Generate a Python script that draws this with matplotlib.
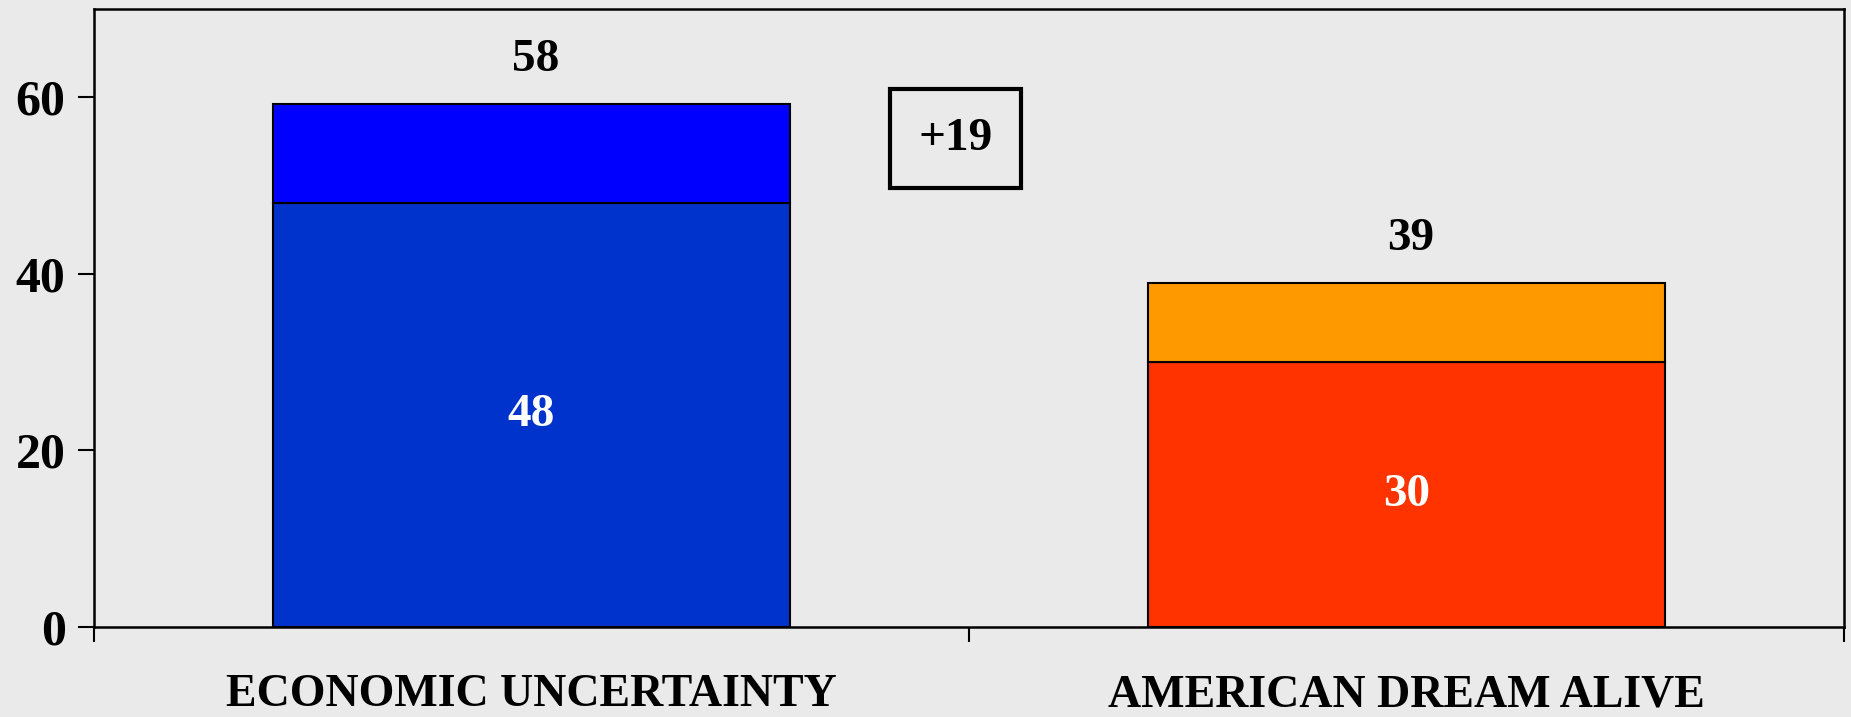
import matplotlib.pyplot as plt
import numpy as np

# data
categories = ['ECONOMIC UNCERTAINTY', 'AMERICAN DREAM ALIVE']
base = [48, 30]          # lower segment
extra = [11.2, 9]        # upper segment
total_labels = ['58', '39']
base_colors = ['#0033CC', '#FF3300']
extra_colors = ['#0000FF', '#FF9900']
diff_label = '+19'

plt.rcParams['font.family'] = ['Liberation Serif', 'DejaVu Serif']
plt.rcParams['font.weight'] = 'bold'

bg = '#EAEAEA'
fig = plt.figure(figsize=(18.51, 7.17), dpi=100, facecolor=bg)
ax = fig.add_axes([0.0508, 0.1255, 0.9454, 0.862])
ax.set_facecolor(bg)

x = np.arange(len(categories)) + 0.5
ax.bar(x, base, width=0.59, color=base_colors, edgecolor='black', linewidth=1.5, zorder=2)
ax.bar(x, extra, width=0.59, bottom=base, color=extra_colors, edgecolor='black', linewidth=1.5, zorder=2)

tops = np.array(base) + np.array(extra)
for xi, b, t, lab in zip(x, base, tops, total_labels):
    ax.text(xi, b / 2, str(b), ha='center', va='center', color='white',
            fontsize=34, fontweight='bold')
    ax.text(xi + 0.005, t + 5, lab, ha='center', va='center', color='black',
            fontsize=34, fontweight='bold')

# difference box
ax.text(0.985, 55.3, diff_label, ha='center', va='center', fontsize=34, fontweight='bold',
        bbox=dict(boxstyle='square,pad=0.6', facecolor='none', edgecolor='black', linewidth=3))

ax.set_xlim(0, 2)
ax.set_ylim(0, 70)
ax.set_xticks([0, 1, 2])
ax.set_xticklabels([])
ax.set_yticks([0, 20, 40, 60])
ax.tick_params(axis='y', direction='out', length=11.5, width=1.5, pad=9, labelsize=36)
ax.tick_params(axis='x', direction='out', length=11, width=1.5)
for lab in ax.get_yticklabels():
    lab.set_fontweight('bold')

for xi, name in zip(x, categories):
    ax.text(xi, -0.128, name, transform=ax.get_xaxis_transform(), ha='center',
            va='baseline', fontsize=33, fontweight='bold')

for s in ax.spines.values():
    s.set_linewidth(1.8)
    s.set_color('black')

fig.savefig('out.png', dpi=100, facecolor=bg)
